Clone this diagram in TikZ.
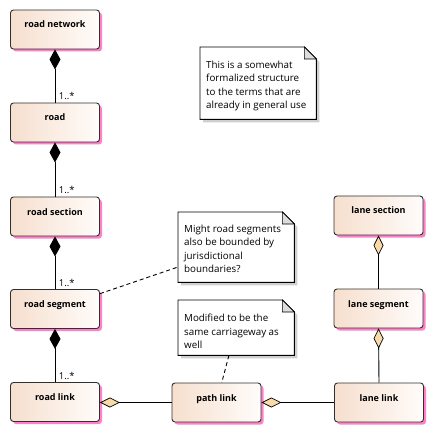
\documentclass[tikz,border=0pt]{standalone}
\usepackage{fontspec}
\setmainfont{Open Sans}
\usetikzlibrary{arrows.meta,shadows,calc}
\definecolor{boxleft}{HTML}{F6DFCE}
\definecolor{boxright}{HTML}{FFFCFA}
\definecolor{shpink}{HTML}{FF80C8}
\definecolor{aggfill}{HTML}{F9D9A8}
\definecolor{foldgray}{HTML}{DCDCDC}
\definecolor{noteshadow}{HTML}{CFCFCF}
\definecolor{edgegray}{HTML}{303030}

% note outline with folded top-right corner, drawn round an empty node
\newcommand{\notefold}[1]{%
  \fill[noteshadow] ($(#1.north west)+(3,3)$) -- ($(#1.north east)+(-9,3)$)
    -- ($(#1.north east)+(3,15)$) -- ($(#1.south east)+(3,3)$)
    -- ($(#1.south west)+(3,3)$) -- cycle;
  \filldraw[fill=white, draw=black, line width=0.9pt] (#1.north west)
    -- ($(#1.north east)+(-12,0)$) -- ($(#1.north east)+(0,12)$)
    -- (#1.south east) -- (#1.south west) -- cycle;
  \filldraw[fill=foldgray, draw=black, line width=0.6pt]
    ($(#1.north east)+(-12,0)$) -- ($(#1.north east)+(-12,12)$)
    -- ($(#1.north east)+(0,12)$) -- cycle;}

\begin{document}
\begin{tikzpicture}[x=1pt,y=-1pt,
  classbox/.style={rectangle, rounded corners=3pt, draw=edgegray, line width=0.9pt,
    left color=boxleft, right color=boxright, minimum width=89pt, minimum height=39pt,
    inner sep=0pt, font=\fontsize{9}{11}\selectfont\bfseries,
    text height=7pt, text depth=10pt,
    drop shadow={shadow xshift=2.5pt, shadow yshift=-2.5pt, fill=shpink, opacity=1}},
  notearea/.style={rectangle, draw=none, inner sep=0pt, anchor=north west},
  notetext/.style={anchor=north west, align=left, inner sep=0pt,
    font=\fontsize{9.8}{13.3}\selectfont},
  mult/.style={font=\fontsize{9.5}{11}\selectfont, inner sep=0pt},
  compose/.style={line width=0.9pt, -{Diamond[length=20pt,width=11pt]}},
  aggregate/.style={line width=0.9pt, draw=black,
    -{Diamond[length=20pt,width=10pt,fill=aggfill,line width=0.7pt]}},
  notelink/.style={line width=0.9pt, dash pattern=on 4pt off 3pt}]

\useasboundingbox (0,0) rectangle (434,433);

% road hierarchy (left column)
\node[classbox] (rnet)  at (55,29.5)  {road network};
\node[classbox] (road)  at (55,122.5) {road};
\node[classbox] (rsec)  at (55,216.5) {road section};
\node[classbox] (rseg)  at (55,309)   {road segment};
\node[classbox] (rlink) at (55,402)   {road link};

% path and lane classes
\node[classbox] (plink) at (216.5,402.5) {path link};
\node[classbox] (llink) at (379,402.5)   {lane link};
\node[classbox] (lsec)  at (378.5,215.5) {lane section};
\node[classbox] (lseg)  at (378.5,308.5) {lane segment};

% compositions with multiplicities
\draw[compose] (road.north) -- node[mult, pos=0, anchor=south west, xshift=3.5pt, yshift=2pt] {1..*} (rnet.south);
\draw[compose] (rsec.north) -- node[mult, pos=0, anchor=south west, xshift=3.5pt, yshift=2pt] {1..*} (road.south);
\draw[compose] (rseg.north) -- node[mult, pos=0, anchor=south west, xshift=3.5pt, yshift=2pt] {1..*} (rsec.south);
\draw[compose] (rlink.north) -- node[mult, pos=0, anchor=south west, xshift=3.5pt, yshift=2pt] {1..*} (rseg.south);

% aggregations
\draw[aggregate] (plink.west) -- (plink.west -| rlink.east);
\draw[aggregate] (llink.west) -- (llink.west -| plink.east);
\draw[aggregate] (lseg.north) -- (lsec.south);
\draw[aggregate] (llink.north) -- (lseg.south);

% notes
\node[notearea, minimum width=116pt, minimum height=72pt] (n1) at (200,47) {};
\notefold{n1}
\node[notetext] (n1t) at ($(n1.north west)+(6,14)$) {This is a somewhat\\formalized structure\\to the terms that are\\already in general use};

\node[notearea, minimum width=116pt, minimum height=70pt] (n2) at (178,212) {};
\notefold{n2}
\node[notetext] (n2t) at ($(n2.north west)+(6,13)$) {Might road segments\\also be bounded by\\jurisdictional\\boundaries?};

\node[notearea, minimum width=116pt, minimum height=55pt] (n3) at (178,300) {};
\notefold{n3}
\node[notetext] (n3t) at ($(n3.north west)+(6,14)$) {Modified to be the\\same carriageway as\\well};

% note attachments
\draw[notelink] (rseg) -- (n2);
\draw[notelink] (n3) -- (plink);
\end{tikzpicture}
\end{document}
